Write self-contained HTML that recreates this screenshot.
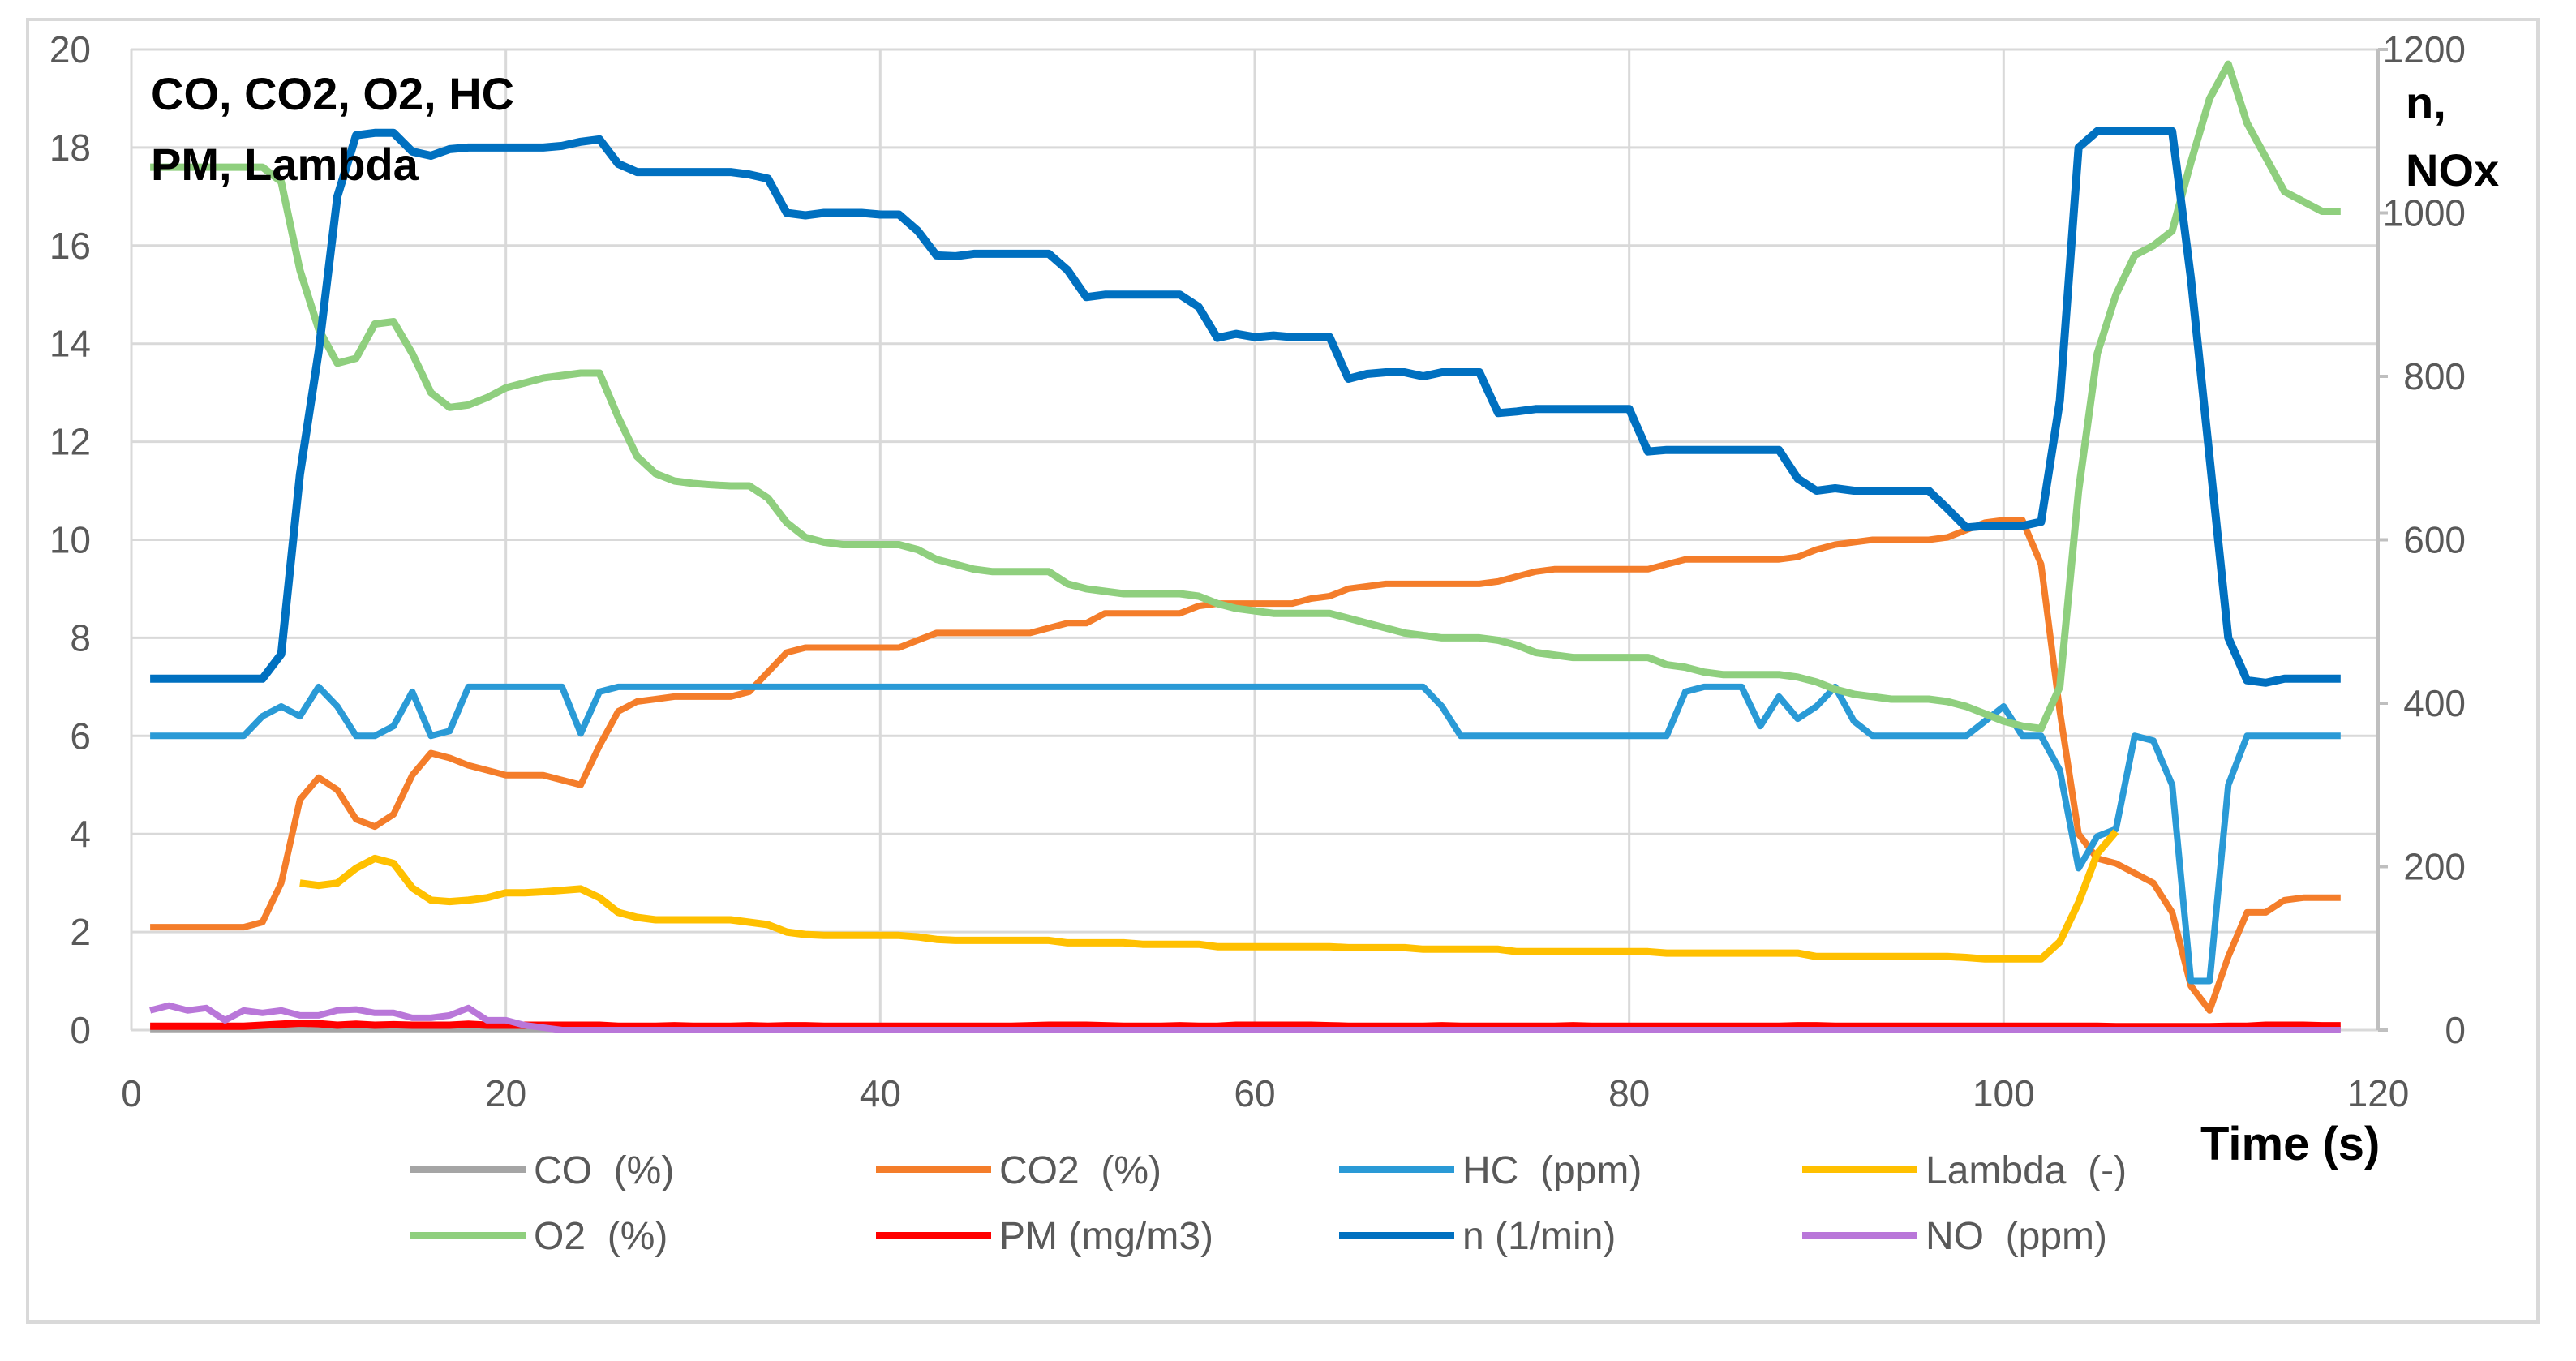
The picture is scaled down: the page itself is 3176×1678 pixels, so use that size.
<!DOCTYPE html>
<html><head><meta charset="utf-8"><style>
html,body{margin:0;padding:0;background:#fff;}
svg{display:block;font-family:"Liberation Sans",sans-serif;}
</style></head><body>
<svg id="chart" width="3176" height="1678" viewBox="0 0 3176 1678" xmlns="http://www.w3.org/2000/svg">
<rect x="34" y="24" width="3095" height="1606" fill="#fff" stroke="#d9d9d9" stroke-width="4"/>
<g id="grid"></g>
<g id="series"></g>
<g id="labels"></g>
<text x="186" y="135" font-size="56" font-weight="bold" fill="#000">CO, CO2, O2, HC</text>
<text x="186" y="222" font-size="56" font-weight="bold" fill="#000">PM, Lambda</text>
<text x="2966" y="146" font-size="56" font-weight="bold" fill="#000">n,</text>
<text x="2966" y="229" font-size="56" font-weight="bold" fill="#000">NOx</text>
<text x="2713" y="1430" font-size="58" font-weight="bold" fill="#000">Time (s)</text>
<g id="legend"></g>
</svg>
<script>
const times = [];
for (let i = 1; i <= 118; i++) times.push(i);
const xTicks = [0,20,40,60,80,100,120];
const yTicks = [0,2,4,6,8,10,12,14,16,18,20];
const y2Ticks = [0,200,400,600,800,1000,1200];

const nVals = [430,430,430,430,430,430,430,460,680,830,1020,1095,1098,1098,1075,1070,1078,1080,1080,1080,1080,1080,1082,1087,1090,1060,1050,1050,1050,1050,1050,1050,1047,1042,1000,997,1000,1000,1000,998,998,978,948,947,950,950,950,950,950,930,897,900,900,900,900,900,885,847,852,848,850,848,848,848,797,803,805,805,800,805,805,805,755,757,760,760,760,760,760,760,708,710,710,710,710,710,710,710,675,660,663,660,660,660,660,660,638,615,617,617,617,622,770,1080,1100,1100,1100,1100,1100,920,700,480,428,425,430,430,430,430];
const o2Vals = [17.6,17.6,17.6,17.6,17.6,17.6,17.6,17.3,15.5,14.3,13.6,13.7,14.4,14.45,13.8,13.0,12.7,12.75,12.9,13.1,13.2,13.3,13.35,13.4,13.4,12.5,11.7,11.35,11.2,11.15,11.12,11.1,11.1,10.85,10.35,10.05,9.95,9.9,9.9,9.9,9.9,9.8,9.6,9.5,9.4,9.35,9.35,9.35,9.35,9.1,9.0,8.95,8.9,8.9,8.9,8.9,8.85,8.7,8.6,8.55,8.5,8.5,8.5,8.5,8.4,8.3,8.2,8.1,8.05,8.0,8.0,8.0,7.95,7.85,7.7,7.65,7.6,7.6,7.6,7.6,7.6,7.45,7.4,7.3,7.25,7.25,7.25,7.25,7.2,7.1,6.95,6.85,6.8,6.75,6.75,6.75,6.7,6.6,6.45,6.3,6.2,6.15,7.0,11.0,13.8,15.0,15.8,16.0,16.3,17.7,19.0,19.7,18.5,17.8,17.1,16.9,16.7,16.7];
const co2Vals = [2.1,2.1,2.1,2.1,2.1,2.1,2.2,3.0,4.7,5.15,4.9,4.3,4.15,4.4,5.2,5.65,5.55,5.4,5.3,5.2,5.2,5.2,5.1,5.0,5.8,6.5,6.7,6.75,6.8,6.8,6.8,6.8,6.9,7.3,7.7,7.8,7.8,7.8,7.8,7.8,7.8,7.95,8.1,8.1,8.1,8.1,8.1,8.1,8.2,8.3,8.3,8.5,8.5,8.5,8.5,8.5,8.65,8.7,8.7,8.7,8.7,8.7,8.8,8.85,9.0,9.05,9.1,9.1,9.1,9.1,9.1,9.1,9.15,9.25,9.35,9.4,9.4,9.4,9.4,9.4,9.4,9.5,9.6,9.6,9.6,9.6,9.6,9.6,9.65,9.8,9.9,9.95,10.0,10.0,10.0,10.0,10.05,10.2,10.35,10.4,10.4,9.5,6.5,4.0,3.5,3.4,3.2,3.0,2.4,0.9,0.4,1.5,2.4,2.4,2.65,2.7,2.7,2.7];
const hcVals = [6.0,6.0,6.0,6.0,6.0,6.0,6.4,6.6,6.4,7.0,6.6,6.0,6.0,6.2,6.9,6.0,6.1,7.0,7.0,7.0,7.0,7.0,7.0,6.05,6.9,7.0,7.0,7.0,7.0,7.0,7.0,7.0,7.0,7.0,7.0,7.0,7.0,7.0,7.0,7.0,7.0,7.0,7.0,7.0,7.0,7.0,7.0,7.0,7.0,7.0,7.0,7.0,7.0,7.0,7.0,7.0,7.0,7.0,7.0,7.0,7.0,7.0,7.0,7.0,7.0,7.0,7.0,7.0,7.0,6.6,6.0,6.0,6.0,6.0,6.0,6.0,6.0,6.0,6.0,6.0,6.0,6.0,6.9,7.0,7.0,7.0,6.2,6.8,6.35,6.6,7.0,6.3,6.0,6.0,6.0,6.0,6.0,6.0,6.3,6.6,6.0,6.0,5.3,3.3,3.95,4.1,6.0,5.9,5.0,1.0,1.0,5.0,6.0,6.0,6.0,6.0,6.0,6.0];
const lambdaVals = [null,null,null,null,null,null,null,null,3.0,2.95,3.0,3.3,3.5,3.4,2.9,2.65,2.62,2.65,2.7,2.8,2.8,2.82,2.85,2.88,2.7,2.4,2.3,2.25,2.25,2.25,2.25,2.25,2.2,2.15,2.0,1.95,1.93,1.93,1.93,1.93,1.93,1.9,1.85,1.83,1.83,1.83,1.83,1.83,1.83,1.78,1.78,1.78,1.78,1.75,1.75,1.75,1.75,1.7,1.7,1.7,1.7,1.7,1.7,1.7,1.68,1.68,1.68,1.68,1.65,1.65,1.65,1.65,1.65,1.6,1.6,1.6,1.6,1.6,1.6,1.6,1.6,1.57,1.57,1.57,1.57,1.57,1.57,1.57,1.57,1.5,1.5,1.5,1.5,1.5,1.5,1.5,1.5,1.48,1.45,1.45,1.45,1.45,1.8,2.6,3.6,4.05,null,null,null,null,null,null,null,null,null,null,null,null];
const pmVals = [0.08,0.08,0.08,0.08,0.08,0.08,0.1,0.12,0.14,0.13,0.1,0.12,0.1,0.11,0.1,0.1,0.1,0.12,0.1,0.1,0.1,0.1,0.1,0.1,0.1,0.08,0.08,0.08,0.09,0.08,0.08,0.08,0.09,0.08,0.09,0.09,0.08,0.08,0.08,0.08,0.08,0.08,0.08,0.08,0.08,0.08,0.08,0.09,0.1,0.1,0.1,0.09,0.08,0.08,0.08,0.09,0.08,0.08,0.1,0.1,0.1,0.1,0.1,0.09,0.08,0.08,0.08,0.08,0.08,0.09,0.08,0.08,0.08,0.08,0.08,0.08,0.09,0.08,0.08,0.08,0.08,0.08,0.08,0.08,0.08,0.08,0.08,0.08,0.09,0.09,0.08,0.08,0.08,0.08,0.08,0.08,0.08,0.08,0.08,0.08,0.08,0.08,0.08,0.08,0.08,0.07,0.07,0.07,0.07,0.07,0.07,0.08,0.08,0.1,0.1,0.1,0.09,0.09];
const noVals = [0.4,0.5,0.4,0.45,0.2,0.4,0.35,0.4,0.3,0.3,0.4,0.42,0.35,0.35,0.25,0.25,0.3,0.45,0.2,0.2,0.1,0.05,0,0,0,0,0,0,0,0,0,0,0,0,0,0,0,0,0,0,0,0,0,0,0,0,0,0,0,0,0,0,0,0,0,0,0,0,0,0,0,0,0,0,0,0,0,0,0,0,0,0,0,0,0,0,0,0,0,0,0,0,0,0,0,0,0,0,0,0,0,0,0,0,0,0,0,0,0,0,0,0,0,0,0,0,0,0,0,0,0,0,0,0,0,0,0,0];
const coVals = [0.02,0.02,0.02,0.02,0.02,0.02,0.02,0.02,0.02,0.02,0.02,0.02,0.02,0.02,0.02,0.02,0.02,0.02,0.02,0.02,0.02,0.02,0.02,0.02,0.02,0.02,0.02,0.02,0.02,0.02,0.02,0.02,0.02,0.02,0.02,0.02,0.02,0.02,0.02,0.02,0.02,0.02,0.02,0.02,0.02,0.02,0.02,0.02,0.02,0.02,0.02,0.02,0.02,0.02,0.02,0.02,0.02,0.02,0.02,0.02,0.02,0.02,0.02,0.02,0.02,0.02,0.02,0.02,0.02,0.02,0.02,0.02,0.02,0.02,0.02,0.02,0.02,0.02,0.02,0.02,0.02,0.02,0.02,0.02,0.02,0.02,0.02,0.02,0.02,0.02,0.02,0.02,0.02,0.02,0.02,0.02,0.02,0.02,0.02,0.02,0.02,0.02,0.02,0.02,0.02,0.02,0.02,0.02,0.02,0.02,0.02,0.02,0.02,0.02,0.02,0.02,0.02,0.02];

const NS = "http://www.w3.org/2000/svg";
const X0 = 162, X1 = 2932, YT = 61, YB = 1270;
function xs(v){ return X0 + (v/120)*(X1-X0); }
function ys(v){ return YB - (v/20)*(YB-YT); }
function ys2(v){ return YB - (v/1200)*(YB-YT); }
function mk(tag, attrs, parent){ const e=document.createElementNS(NS,tag); for(const k in attrs) e.setAttribute(k,attrs[k]); parent.appendChild(e); return e; }

const grid = document.getElementById('grid');
yTicks.forEach(t=>{
  const l = mk('line',{x1:X0,x2:X1,y1:ys(t),y2:ys(t),stroke:'#d9d9d9','stroke-width':3},grid);
  
  
});
xTicks.forEach(t=>{
  const l = mk('line',{x1:xs(t),x2:xs(t),y1:YT,y2:YB,stroke:'#d9d9d9','stroke-width':3},grid);
  
  
});
const ax = mk('line',{x1:X1,x2:X1,y1:YT,y2:YB,stroke:'#bfbfbf','stroke-width':4},grid);


y2Ticks.forEach(t=>{
  const l = mk('line',{x1:X1,x2:X1+12,y1:ys2(t),y2:ys2(t),stroke:'#bfbfbf','stroke-width':4},grid);
  
  
});

const labels = document.getElementById('labels');
yTicks.forEach(t=>{
  const e = mk('text',{x:112,y:ys(t)+16,'text-anchor':'end','font-size':46,fill:'#595959'},labels);
  e.textContent = t;
  
  
});
y2Ticks.forEach(t=>{
  const e = mk('text',{x:3040,y:ys2(t)+16,'text-anchor':'end','font-size':46,fill:'#595959'},labels);
  e.textContent = t;
  
  
});
xTicks.forEach(t=>{
  const e = mk('text',{x:xs(t),y:1364,'text-anchor':'middle','font-size':46,fill:'#595959'},labels);
  e.textContent = t;
  
  
});

const series = document.getElementById('series');
function drawLine(vals, scale, color, width, name){
  let d = '', pen = false;
  vals.forEach((v,i)=>{
    if (v === null) { pen = false; return; }
    d += (pen ? 'L' : 'M') + xs(times[i]).toFixed(1) + ' ' + scale(v).toFixed(1) + ' ';
    pen = true;
  });
  const p = mk('path',{d:d,fill:'none',stroke:color,'stroke-width':width,'stroke-linejoin':'round','stroke-linecap':'butt'},series);
  
  
}
drawLine(coVals, ys, '#a5a5a5', 8, 'co-line');
drawLine(co2Vals, ys, '#f47d2a', 8, 'co2-line');
drawLine(hcVals, ys, '#2a9ad6', 8, 'hc-line');
drawLine(lambdaVals, ys, '#ffc000', 9, 'lambda-line');
drawLine(o2Vals, ys, '#8fcf7e', 9, 'o2-line');
drawLine(pmVals, ys, '#ff0000', 9, 'pm-line');
drawLine(nVals, ys2, '#0070c0', 10, 'n-line');
drawLine(noVals, ys, '#b977d9', 8, 'no-line');

const legendNames = ['CO  (%)','CO2  (%)','HC  (ppm)','Lambda  (-)','O2  (%)','PM (mg/m3)','n (1/min)','NO  (ppm)'];
const legendColors = ['#a5a5a5','#f47d2a','#2a9ad6','#ffc000','#8fcf7e','#ff0000','#0070c0','#b977d9'];
const legendKeys = ['co','co2','hc','lambda','o2','pm','n','no'];
const legendCols = [506,1080,1651,2222];
const legendRows = [1442,1523];
const legend = document.getElementById('legend');
legendNames.forEach((nm,i)=>{
  const lx = legendCols[i%4], ly = legendRows[Math.floor(i/4)];
  const g = mk('g',{},legend);
  
  
  const l = mk('line',{x1:lx,x2:lx+142,y1:ly,y2:ly,stroke:legendColors[i],'stroke-width':8},g);
  
  
  const t = mk('text',{x:lx+152,y:ly+17,'font-size':48,fill:'#595959','xml:space':'preserve'},g);
  t.style.whiteSpace='pre';
  t.textContent = nm;
  
  
});
</script>
</body></html>
